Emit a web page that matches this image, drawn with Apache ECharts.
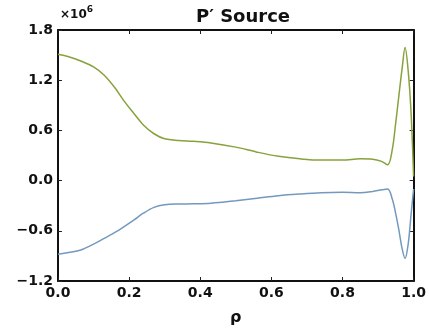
<!DOCTYPE html>
<html>
<head>
<meta charset="utf-8">
<script src="https://cdn.jsdelivr.net/npm/echarts@6/dist/echarts.min.js"></script>
<style>
  html, body { margin: 0; padding: 0; background: #fff; }
  #main { width: 429px; height: 331px; }
</style>
</head>
<body>
<div id="main"></div>
<script>
// rho grid (normalised radius)
const rho = [0, 0.03, 0.064, 0.1, 0.13, 0.16, 0.186, 0.214, 0.24, 0.27, 0.3, 0.34, 0.38, 0.43, 0.5, 0.56,
  0.62, 0.68, 0.74, 0.8, 0.85, 0.885, 0.91, 0.927, 0.94, 0.95, 0.959, 0.968, 0.976, 0.985, 0.993, 1.0];
// values in units of 1e6
const upper = [1.51, 1.48, 1.43, 1.36, 1.26, 1.11, 0.95, 0.8, 0.665, 0.56, 0.5, 0.48, 0.47, 0.45, 0.4, 0.34,
  0.29, 0.26, 0.245, 0.245, 0.26, 0.256, 0.23, 0.19, 0.37, 0.7, 1.03, 1.35, 1.59, 1.3, 0.8, 0.05];
const lower = [-0.88, -0.86, -0.83, -0.76, -0.69, -0.62, -0.55, -0.47, -0.39, -0.32, -0.29, -0.28, -0.278, -0.27, -0.24, -0.21,
  -0.18, -0.16, -0.145, -0.14, -0.145, -0.13, -0.11, -0.1, -0.22, -0.4, -0.6, -0.82, -0.93, -0.75, -0.4, -0.1];
const xTicks = [0, 0.2, 0.4, 0.6, 0.8, 1.0];
const yTicks = [-1.2, -0.6, 0, 0.6, 1.2, 1.8];

const font = "DejaVu Sans";
const chart = echarts.init(document.getElementById("main"));

const pairs = (ys) => rho.map((r, i) => [r, ys[i]]);
const fmtY = (v) => (v < 0 ? "\u2212" : "") + Math.abs(v).toFixed(1);

const hidden = { show: false };
const tickIn = { show: true, inside: true, length: 4, lineStyle: { color: "#222", width: 1 } };
const frame = { show: true, onZero: false, lineStyle: { color: "#111", width: 2 } };

chart.setOption({
  animation: false,
  backgroundColor: "#fff",
  title: {
    text: "P\u2032 Source",
    left: 238,
    textAlign: "center",
    top: 3,
    textStyle: { fontFamily: font, fontSize: 18, fontWeight: "bold", color: "#111" },
  },
  grid: { left: 58, right: 11, top: 30, bottom: 42 },
  xAxis: [
    {
      type: "value", min: 0, max: 1, interval: 0.2,
      axisLine: frame, axisTick: tickIn, splitLine: hidden,
      axisLabel: { margin: 5, fontFamily: font, fontSize: 14, fontWeight: "bold", color: "#111",
        formatter: (v) => v.toFixed(1), showMinLabel: true, showMaxLabel: true },
      name: "\u03c1", nameLocation: "middle", nameGap: 29,
      nameTextStyle: { fontFamily: font, fontSize: 16, fontWeight: "bold", color: "#111" },
    },
    {
      type: "value", position: "top", min: 0, max: 1, interval: 0.2,
      axisLine: frame, axisTick: tickIn, axisLabel: hidden, splitLine: hidden,
    },
  ],
  yAxis: [
    {
      type: "value", min: -1.2, max: 1.8, interval: 0.6,
      axisLine: frame, axisTick: tickIn, splitLine: hidden,
      axisLabel: { margin: 5, fontFamily: font, fontSize: 14, fontWeight: "bold", color: "#111",
        formatter: fmtY, showMinLabel: true, showMaxLabel: true },
    },
    {
      type: "value", position: "right", min: -1.2, max: 1.8, interval: 0.6,
      axisLine: frame, axisTick: tickIn, axisLabel: hidden, splitLine: hidden,
    },
  ],
  graphic: [
    {
      type: "text", left: 60, top: 5,
      style: {
        text: "{a|\u00d710}{b|6}",
        rich: {
          a: { fontFamily: font, fontSize: 12, fontWeight: "bold", fill: "#111", verticalAlign: "bottom", lineHeight: 16 },
          b: { fontFamily: font, fontSize: 9, fontWeight: "bold", fill: "#111", verticalAlign: "top", lineHeight: 16, padding: [0, 0, 6, 0] },
        },
      },
    },
  ],
  series: [
    {
      name: "upper", type: "line", data: pairs(upper), smooth: 0.35, showSymbol: false,
      lineStyle: { color: "#86a23c", width: 1.5 },
    },
    {
      name: "lower", type: "line", data: pairs(lower), smooth: 0.35, showSymbol: false,
      lineStyle: { color: "#7399bd", width: 1.5 },
    },
  ],
});
</script>
</body>
</html>
